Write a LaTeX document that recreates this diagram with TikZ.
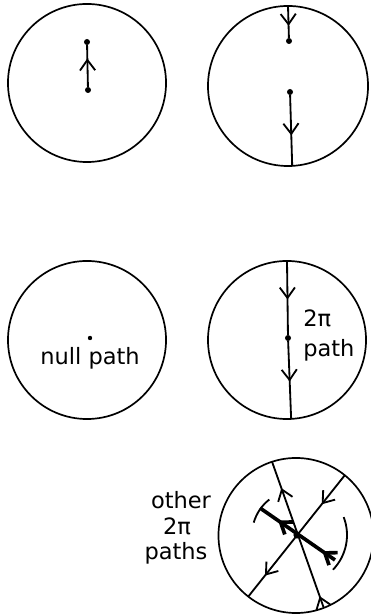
\documentclass[tikz,border=0pt]{standalone}
\usepackage{fontspec}
\setmainfont{DejaVu Sans}
\usetikzlibrary{arrows.meta,decorations.markings}

\begin{document}
\begin{tikzpicture}[x=0.025cm,y=0.025cm,
  ring/.style={circle,draw,line width=1.2pt,inner sep=0pt,outer sep=0pt,minimum size=#1},
  dot/.style={circle,fill,inner sep=0pt,outer sep=0pt,minimum size=1.5mm},
  trail/.style={line width=1.3pt},
  barb/.tip={Straight Barb[length=2.6mm,width=3.8mm]},
  tipat/.style={postaction={decorate,decoration={markings,mark=at position #1 with {\arrow{barb}}}}},
  lbl/.style={font=\fontsize{16}{18}\selectfont,inner sep=0pt}]
\path[use as bounding box] (0,0) rectangle (370,615);
\node[ring=3.95cm] (c1) at (87,532) {};
\node[dot] (c1a) at (87,573) {};
\node[dot] (c1b) at (88,525) {};
\draw[trail,tipat=0.68] (c1b) -- (c1a);
\node[ring=4cm] (c2) at (288,529) {};
\node[dot] (c2a) at (289,574) {};
\node[dot] (c2b) at (290,523) {};
\draw[trail,tipat=0.62] (c2.north) -- (c2a);
\draw[trail,tipat=0.57] (c2b) -- (c2.-87);
\node[ring=3.95cm] (c3) at (87,275) {};
\node[dot,minimum size=1.1mm] (c3a) at (90,277) {};
\node[lbl,anchor=base] (c3t) at (90,250) {null path};
\node[ring=3.95cm] (c4) at (287,275) {};
\node[dot] (c4a) at (288,277) {};
\draw[trail,tipat=0.52] (c4.north) -- (c4a);
\draw[trail,tipat=0.52] (c4a) -- (c4.-87);
\node[lbl,anchor=base west] (c4t) at (303,288) {2π};
\node[lbl,anchor=base west] (c4u) at (303,258) {path};
\node[ring=3.875cm] (c5) at (296,79.5) {};
\draw[trail,tipat=0.08,tipat=0.82] (c5.-69) -- (c5.108);
\draw[trail,tipat=0.24,tipat=0.83] (c5.51) -- (c5.232);
\node[dot,minimum size=1.8mm] (c5o) at (297,80) {};
\coordinate (t1) at (335,55);
\coordinate (t2) at (260,107);
\draw[line width=2.6pt,tipat=0.17,tipat=0.76] (t1) -- (t2);
\draw[trail] ([shift={(128:45)}]c5o.center) arc[start angle=128,end angle=164,radius=45];
\draw[trail] ([shift={(21:50)}]c5o.center) arc[start angle=21,end angle=-44,radius=50];
\node[lbl,anchor=base] (c5t) at (181,106) {other};
\node[lbl,anchor=base] (c5u) at (177,80) {2π};
\node[lbl,anchor=base] (c5v) at (176,55) {paths};
\end{tikzpicture}
\end{document}
